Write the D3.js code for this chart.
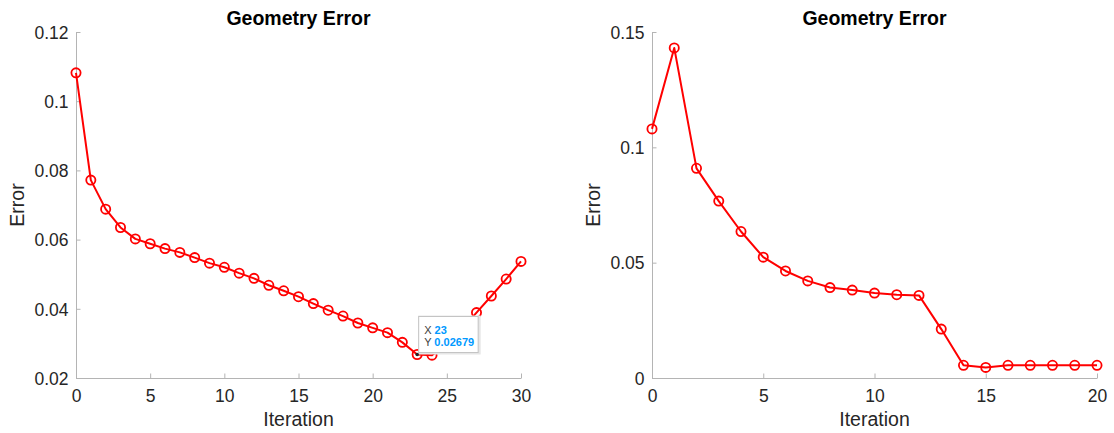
<!DOCTYPE html>
<html><head><meta charset="utf-8">
<script src="https://cdn.jsdelivr.net/npm/d3@7"></script>
<style>
html,body{margin:0;padding:0;background:#fff;}
svg{display:block;font-family:"Liberation Sans",Arial,Helvetica,sans-serif;}
</style></head>
<body>
<svg id="chart" width="1114" height="433"></svg>
<script>
// ---- data ----
const iterLeft = d3.range(0, 31);
const errLeft = [0.1082, 0.0772, 0.0688, 0.0635, 0.0602, 0.0588, 0.0574, 0.0563, 0.0548, 0.0532,
                 0.0520, 0.0503, 0.0488, 0.0468, 0.0452, 0.0435, 0.0415, 0.0396, 0.0379, 0.0359,
                 0.0345, 0.0331, 0.0303, 0.02679, 0.0266, 0.0300, 0.0340, 0.0389, 0.0437, 0.0486, 0.0537];
const iterRight = d3.range(0, 21);
const errRight = [0.1080, 0.1431, 0.0909, 0.0767, 0.0635, 0.0524, 0.0464, 0.0421, 0.0392, 0.0381,
                  0.0368, 0.0361, 0.0358, 0.0212, 0.0055, 0.0046, 0.0055, 0.0055, 0.0055, 0.0055, 0.0055];
const xTicksLeft = [0, 5, 10, 15, 20, 25, 30];
const yTicksLeft = [0.02, 0.04, 0.06, 0.08, 0.1, 0.12];
const yTickLabelsLeft = ["0.02", "0.04", "0.06", "0.08", "0.1", "0.12"];
const xTicksRight = [0, 5, 10, 15, 20];
const yTicksRight = [0, 0.05, 0.1, 0.15];
const yTickLabelsRight = ["0", "0.05", "0.1", "0.15"];
const titleText = "Geometry Error";
const xLabelText = "Iteration";
const yLabelText = "Error";
const tipIndex = 23;
const tipLines = [["X ", "23"], ["Y ", "0.02679"]];

const svg = d3.select("#chart");
const TOP = 32, BOTTOM = 378;
const AXIS_COLOR = "#b4b4b4", TEXT_COLOR = "#262626", RED = "#ff0000";

function panel(opts) {
  const x = d3.scaleLinear().domain(opts.xDomain).range([opts.left, opts.right]);
  const y = d3.scaleLinear().domain(opts.yDomain).range([BOTTOM, TOP]);
  const g = svg.append("g");

  // x axis
  const xa = g.append("g").attr("transform", `translate(0,${BOTTOM})`)
    .call(d3.axisBottom(x).tickValues(opts.xTicks).tickSizeInner(-4.5).tickSizeOuter(0).tickPadding(12).tickFormat(d3.format("d")));
  xa.select(".domain").attr("stroke", AXIS_COLOR).attr("stroke-width", 1);
  xa.selectAll(".tick line").attr("stroke", AXIS_COLOR);
  xa.selectAll(".tick text").attr("fill", TEXT_COLOR).attr("font-size", "17.5px").attr("dy", "0.71em")
    .attr("y", 11.5);

  // y axis
  const ya = g.append("g").attr("transform", `translate(${opts.left},0)`)
    .call(d3.axisLeft(y).tickValues(opts.yTicks).tickSizeInner(-4.5).tickSizeOuter(0)
      .tickFormat((d, i) => opts.yLabels[i]));
  ya.select(".domain").attr("stroke", AXIS_COLOR).attr("stroke-width", 1);
  ya.selectAll(".tick line").attr("stroke", AXIS_COLOR);
  ya.selectAll(".tick text").attr("fill", TEXT_COLOR).attr("font-size", "17.5px").attr("x", -7.5).attr("dy", "0.36em");

  // labels
  const cx = (opts.left + opts.right) / 2;
  g.append("text").attr("x", cx).attr("y", 25).attr("text-anchor", "middle")
    .attr("font-weight", "bold").attr("font-size", "19.5px").attr("fill", "#000").text(titleText);
  g.append("text").attr("x", cx).attr("y", 426).attr("text-anchor", "middle")
    .attr("font-size", "19.5px").attr("fill", TEXT_COLOR).text(xLabelText);
  g.append("text").attr("transform", `translate(${opts.left - 52},${(TOP + BOTTOM) / 2}) rotate(-90)`)
    .attr("text-anchor", "middle").attr("font-size", "19.5px").attr("fill", TEXT_COLOR).text(yLabelText);

  const pts = opts.xs.map((v, i) => [v, opts.ys[i]]);
  g.append("path").datum(pts)
    .attr("d", d3.line().x(d => x(d[0])).y(d => y(d[1])))
    .attr("fill", "none").attr("stroke", RED).attr("stroke-width", 2).attr("stroke-linejoin", "round");
  g.selectAll("circle.m").data(pts).enter().append("circle").attr("class", "m")
    .attr("cx", d => x(d[0])).attr("cy", d => y(d[1])).attr("r", 4.6)
    .attr("fill", "none").attr("stroke", RED).attr("stroke-width", 1.8);
  return {x, y, g, pts};
}

const L = panel({left: 76, right: 521, xDomain: [0, 30], yDomain: [0.02, 0.12],
  xTicks: xTicksLeft, yTicks: yTicksLeft, yLabels: yTickLabelsLeft, xs: iterLeft, ys: errLeft});
const R = panel({left: 652, right: 1097, xDomain: [0, 20], yDomain: [0, 0.15],
  xTicks: xTicksRight, yTicks: yTicksRight, yLabels: yTickLabelsRight, xs: iterRight, ys: errRight});

// datatip
const px = L.x(iterLeft[tipIndex]), py = L.y(errLeft[tipIndex]);
const tip = L.g.append("g");
tip.append("rect").attr("x", px + 2.5).attr("y", py - 37.5).attr("width", 59.5).attr("height", 36)
  .attr("fill", "none").attr("stroke", "#e6e6e6").attr("stroke-width", 3);
tip.append("rect").attr("x", px + 1.5).attr("y", py - 38).attr("width", 59.5).attr("height", 36)
  .attr("fill", "#ffffff").attr("stroke", "#c4c4c4").attr("stroke-width", 1);
tipLines.forEach((ln, i) => {
  const t = tip.append("text").attr("x", px + 7).attr("y", py - 21 + i * 12.7).attr("font-size", "11px");
  t.append("tspan").attr("fill", "#404040").text(ln[0]);
  t.append("tspan").attr("fill", "#0099ff").attr("font-weight", "bold").text(ln[1]);
});
tip.append("circle").attr("cx", px).attr("cy", py).attr("r", 1.8).attr("fill", "#222");
</script>
</body></html>
